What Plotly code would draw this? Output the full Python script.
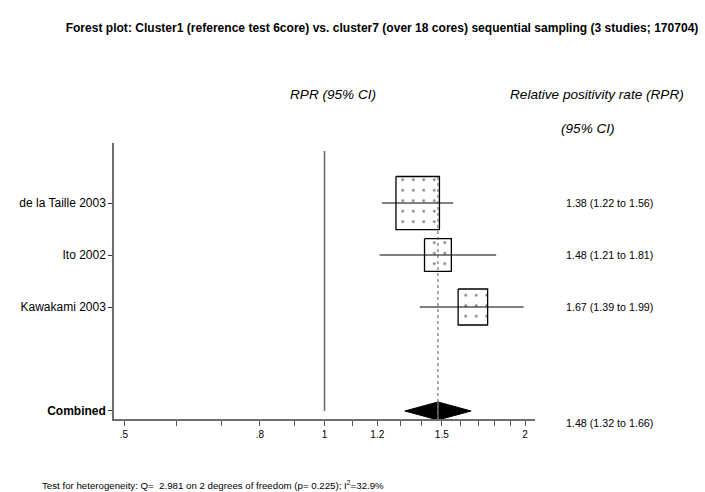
import numpy as np
import plotly.graph_objects as go

# ---- data ----
studies = ["de la Taille 2003", "Ito 2002", "Kawakami 2003"]
rpr = [1.38, 1.48, 1.67]
ci_low = [1.22, 1.21, 1.39]
ci_high = [1.56, 1.81, 1.99]
weights = [54.3, 20.7, 25.0]  # box areas (approx. %)
pooled_label = "Combined"
pooled = 1.48
pooled_low = 1.32
pooled_high = 1.66
major_tick_vals = [0.5, 0.8, 1.0, 1.2, 1.5, 2.0]
major_tick_text = [".5", ".8", "1", "1.2", "1.5", "2"]
minor_tick_vals = [0.6, 0.7, 0.9, 1.1, 1.3, 1.4, 1.6, 1.7, 1.8, 1.9]
title = "Forest plot: Cluster1 (reference test 6core) vs. cluster7 (over 18 cores) sequential sampling (3 studies; 170704)"
footer = "Test for heterogeneity: Q=  2.981 on 2 degrees of freedom (p= 0.225); I<sup>2</sup>=32.9%"

# ---- layout constants ----
W, H = 705, 492
ML, MR, MT, MB = 114, 170, 143, 73
x_range = [np.log10(0.483), np.log10(2.07)]
y_rows = [1, 2, 3]
y_pooled = 5
y_range = [5.154, -0.154]
plot_w = W - ML - MR
plot_h = H - MT - MB
px_per_log = plot_w / (x_range[1] - x_range[0])
px_per_row = plot_h / (y_range[0] - y_range[1])
box_k = 5.9          # px per sqrt(weight)
box_aspect = 1.22    # height / width in px

FONT = "Liberation Sans, Arial, sans-serif"
fig = go.Figure()

# reference line at 1
fig.add_trace(go.Scatter(x=[1, 1], y=[0, y_pooled], mode="lines",
                         line=dict(color="#6e6e6e", width=1.6), hoverinfo="skip"))

# boxes
for yv, est, w in zip(y_rows, rpr, weights):
    side = box_k * np.sqrt(w)
    hw = side / 2 / px_per_log
    hh = side * box_aspect / 2 / px_per_row
    lx = np.log10(est)
    xs = [10 ** (lx - hw), 10 ** (lx + hw), 10 ** (lx + hw), 10 ** (lx - hw), 10 ** (lx - hw)]
    ys = [yv - hh, yv - hh, yv + hh, yv + hh, yv - hh]
    fig.add_trace(go.Scatter(x=xs, y=ys, mode="lines", fill="toself",
                             fillcolor="white",
                             fillpattern=dict(shape=".", size=10.5, solidity=0.05,
                                              fgcolor="black", bgcolor="white"),
                             line=dict(color="black", width=1.3), hoverinfo="skip"))

# CI lines
for yv, lo, hi in zip(y_rows, ci_low, ci_high):
    fig.add_trace(go.Scatter(x=[lo, hi], y=[yv, yv], mode="lines",
                             line=dict(color="black", width=1), hoverinfo="skip"))

# diamond
dh = 9 / px_per_row
fig.add_trace(go.Scatter(x=[pooled_low, pooled, pooled_high, pooled, pooled_low],
                         y=[y_pooled, y_pooled - dh, y_pooled, y_pooled + dh, y_pooled],
                         mode="lines", fill="toself", fillcolor="black",
                         line=dict(color="black", width=1), hoverinfo="skip"))

# pooled dotted line
fig.add_trace(go.Scatter(x=[pooled, pooled], y=[y_rows[0] - 0.5, y_range[0]], mode="lines",
                         line=dict(color="#555555", width=1, dash="dot"), hoverinfo="skip"))
fig.add_trace(go.Scatter(x=[pooled, pooled], y=[y_pooled - dh, y_range[0]], mode="lines",
                         line=dict(color="#9a9a9a", width=1), hoverinfo="skip"))

annotations = []
# right-hand estimate text
for yv, est, lo, hi in zip(y_rows, rpr, ci_low, ci_high):
    annotations.append(dict(x=(564 - ML) / plot_w, xref="paper", y=yv, yref="y",
                            text=f"{est:.2f} ({lo:.2f} to {hi:.2f})", showarrow=False,
                            xanchor="left", yanchor="middle",
                            font=dict(size=10.7, color="black", family=FONT)))
annotations.append(dict(x=(564 - ML) / plot_w, xref="paper", y=y_pooled, yref="y", yshift=-12,
                        text=f"{pooled:.2f} ({pooled_low:.2f} to {pooled_high:.2f})", showarrow=False,
                        xanchor="left", yanchor="middle",
                        font=dict(size=10.7, color="black", family=FONT)))

def py(pix):
    return (H - MB - pix) / plot_h

def px(pix):
    return (pix - ML) / plot_w

hdr_font = dict(size=13.6, color="black", family=FONT)
annotations += [
    dict(x=px(333), y=py(94), xref="paper", yref="paper", text="<i>RPR (95% CI)</i>",
         showarrow=False, xanchor="center", yanchor="middle", font=hdr_font),
    dict(x=px(597), y=py(94), xref="paper", yref="paper", text="<i>Relative positivity rate (RPR)</i>",
         showarrow=False, xanchor="center", yanchor="middle", font=hdr_font),
    dict(x=px(588), y=py(128), xref="paper", yref="paper", text="<i>(95% CI)</i>",
         showarrow=False, xanchor="center", yanchor="middle", font=hdr_font),
    dict(x=1, xref="x", y=py(437), yref="paper", text="RPR", showarrow=False,
         xanchor="center", yanchor="middle", font=dict(size=10, color="black", family=FONT)),
    dict(x=px(40), y=py(485), xref="paper", yref="paper", text=footer, showarrow=False,
         xanchor="left", yanchor="middle", font=dict(size=9.7, color="black", family=FONT)),
]

fig.update_layout(
    width=W, height=H,
    margin=dict(l=ML, r=MR, t=MT, b=MB),
    paper_bgcolor="white", plot_bgcolor="white",
    showlegend=False,
    title=dict(text=f"<b>{title}</b>", x=382 / W, xanchor="center",
               y=1 - 28 / H, yanchor="middle",
               font=dict(size=12.05, color="black", family=FONT)),
    xaxis=dict(type="log", range=x_range, showgrid=False, zeroline=False,
               showline=True, linecolor="#6e6e6e", linewidth=1.5,
               ticks="outside", ticklen=5, tickcolor="#555555", tickwidth=1,
               tickvals=major_tick_vals, ticktext=major_tick_text,
               minor=dict(tickvals=minor_tick_vals, ticks="outside", ticklen=5,
                          tickcolor="#555555", tickwidth=1, showgrid=False),
               tickfont=dict(size=10, color="black", family=FONT)),
    yaxis=dict(range=y_range, showgrid=False, zeroline=False,
               showline=True, linecolor="#6e6e6e", linewidth=1.5,
               ticks="outside", ticklen=4, tickcolor="#333333", tickwidth=1,
               tickvals=y_rows + [y_pooled],
               ticktext=studies + [f"<b>{pooled_label}</b>"],
               tickfont=dict(size=12, color="black", family=FONT)),
    annotations=annotations,
)

fig.write_html("out.html")
